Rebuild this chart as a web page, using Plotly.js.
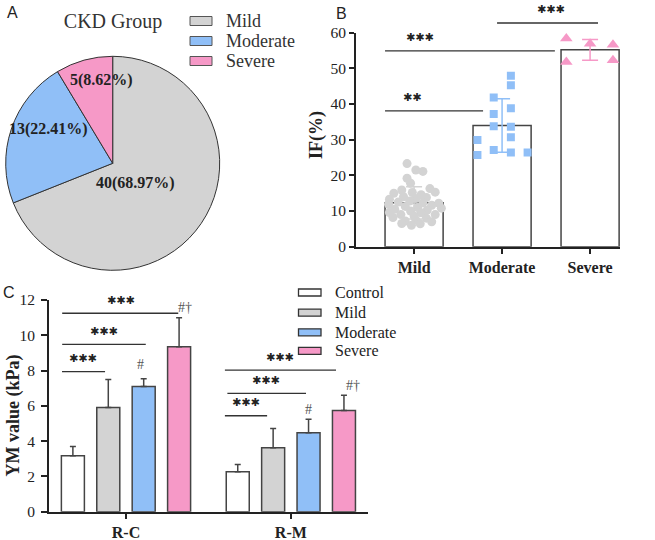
<!DOCTYPE html>
<html>
<head>
<meta charset="utf-8">
<script src="https://cdn.plot.ly/plotly-3.0.1.min.js"></script>
<style>html,body{margin:0;padding:0;background:#fff;}#chart{width:655px;height:540px;}</style>
</head>
<body>
<div id="chart"></div>
<script>
// ---------- Panel A data ----------
const pieLabels = ['Mild', 'Moderate', 'Severe'];
const pieCounts = [40, 13, 5];

// ---------- Panel B data ----------
const ifCats = ['Mild', 'Moderate', 'Severe'];
const ifMeans = [12.3, 34.0, 55.2];
const ifSD = [4.5, 7.5, 2.9];
const mildIF = [23.3, 21.5, 21.1, 19.2, 17.8, 15.9, 16.3, 15.3, 15.0, 15.2, 14.6, 14.0, 13.8, 13.3, 13.5, 12.8, 12.5, 12.2, 12.3, 11.9,
                11.6, 11.3, 11.0, 10.8, 10.5, 10.3, 10.0, 9.6, 9.5, 9.0, 9.0, 8.6, 8.2, 8.0, 7.5, 7.2, 7.0, 6.5, 6.4, 6.0];
const mildJitter = [-0.08, 0.02, 0.10, -0.08, -0.04, -0.14, 0.18, 0.24, -0.23, -0.02, 0.08, -0.12, 0.14, -0.28, 0.02, -0.05, -0.18, 0.28, 0.10, -0.29,
                    0.20, -0.10, 0.04, 0.31, -0.22, 0.15, -0.04, -0.28, 0.08, 0.24, -0.15, 0.00, -0.24, 0.14, 0.02, -0.10, 0.20, -0.14, 0.07, -0.03];
const modIF = [47.9, 45.3, 41.8, 38.8, 37.2, 33.8, 33.6, 29.9, 30.7, 25.7, 27.1, 26.4, 26.4];
const modJitter = [0.10, 0.10, -0.095, 0.10, -0.095, -0.095, 0.10, -0.28, 0.10, -0.28, -0.095, 0.10, 0.29];
const sevIF = [58.4, 51.8, 56.9, 56.6, 52.3];
const sevJitter = [-0.27, -0.27, 0.0, 0.26, 0.26];

// ---------- Panel C data ----------
const ymSites = ['R-C', 'R-M'];
const ymGroups = ['Control', 'Mild', 'Moderate', 'Severe'];
const ymControl = [3.17, 2.27];
const ymControlSD = [0.52, 0.40];
const ymMild = [5.9, 3.62];
const ymMildSD = [1.6, 1.1];
const ymModerate = [7.1, 4.47];
const ymModerateSD = [0.43, 0.77];
const ymSevere = [9.35, 5.73];
const ymSevereSD = [1.65, 0.87];

// ---------- styles ----------
const SERIF = 'Liberation Serif, Times New Roman, serif';
const SANS = 'Liberation Sans, Arial, sans-serif';
const GRAY = '#d3d3d3', BLUE = '#90bff7', PINK = '#f699c7';
const pieColors = [GRAY, BLUE, PINK];
const groupColors = ['#ffffff', GRAY, BLUE, PINK];
const ink = '#222';
const W = 655, H = 540;
const px = v => v / W, py = v => 1 - v / H;

const traces = [];

// Pie
traces.push({
  type: 'pie', labels: pieLabels, values: pieCounts, sort: false, direction: 'clockwise', rotation: 0,
  domain: {x: [px(5.7), px(219.7)], y: [py(270.3), py(56.3)]},
  marker: {colors: pieColors, line: {color: '#333', width: 1}},
  textinfo: 'none', hoverinfo: 'none', showlegend: false
});

// Panel B bars
traces.push({
  type: 'bar', x: [0, 1, 2], y: ifMeans, width: 0.66, xaxis: 'x2', yaxis: 'y2',
  marker: {color: '#fff', line: {color: '#444', width: 1.5}}, showlegend: false, hoverinfo: 'none'
});
// Panel B error bars (coloured per group)
for (let i = 0; i < 3; i++) {
  traces.push({
    type: 'scatter', mode: 'markers', x: [i], y: [ifMeans[i]], xaxis: 'x2', yaxis: 'y2',
    marker: {opacity: 0, size: 1}, showlegend: false, hoverinfo: 'none',
    error_y: {type: 'data', array: [ifSD[i]], color: pieColors[i], thickness: 1.5, width: 8}
  });
}
// Panel B points
traces.push({
  type: 'scatter', mode: 'markers', x: mildIF.map((v, i) => 0 + mildJitter[i]), y: mildIF, xaxis: 'x2', yaxis: 'y2',
  marker: {symbol: 'circle', size: 9, color: GRAY}, showlegend: false, hoverinfo: 'none'
});
traces.push({
  type: 'scatter', mode: 'markers', x: modIF.map((v, i) => 1 + modJitter[i]), y: modIF, xaxis: 'x2', yaxis: 'y2',
  marker: {symbol: 'square', size: 8, color: BLUE}, showlegend: false, hoverinfo: 'none'
});
traces.push({
  type: 'scatter', mode: 'markers', x: sevIF.map((v, i) => 2 + sevJitter[i]), y: sevIF, xaxis: 'x2', yaxis: 'y2',
  marker: {symbol: 'triangle-up', size: 11, color: PINK}, showlegend: false, hoverinfo: 'none'
});

// Panel C bars
const ymVals = [ymControl, ymMild, ymModerate, ymSevere];
const ymSDs = [ymControlSD, ymMildSD, ymModerateSD, ymSevereSD];
for (let g = 0; g < 4; g++) {
  traces.push({
    type: 'bar', name: ymGroups[g], x: ymSites, y: ymVals[g], xaxis: 'x', yaxis: 'y',
    marker: {color: groupColors[g], line: {color: '#444', width: 1.5}},
    error_y: {type: 'data', array: ymSDs[g], symmetric: false, arrayminus: ymSDs[g].map(() => 0), color: '#444', thickness: 1.5, width: 3},
    showlegend: false, hoverinfo: 'none'
  });
}

// ---------- annotations / shapes ----------
const STAR = '\u2731';
const stars = n => STAR.repeat(n);
const starFont = {family: 'DejaVu Sans', size: 11, color: ink};
const hashFont = {family: SERIF, size: 14, color: '#555'};
const total = pieCounts.reduce((a, b) => a + b, 0);
const pieText = pieCounts.map(c => c + '(' + (c / total * 100).toFixed(2) + '%)');
const pieTextPos = [[135, 183], [48, 129], [101.5, 80]];

const A = (o) => Object.assign({showarrow: false, xanchor: 'center', yanchor: 'middle'}, o);
const annotations = [
  A({text: 'A', x: px(12), y: py(13), xref: 'paper', yref: 'paper', font: {family: SANS, size: 16, color: ink}}),
  A({text: 'B', x: px(341), y: py(14), xref: 'paper', yref: 'paper', font: {family: SANS, size: 16, color: ink}}),
  A({text: 'C', x: px(9), y: py(292), xref: 'paper', yref: 'paper', font: {family: SANS, size: 16, color: ink}}),
  // axis titles
  A({text: '<b>IF(%)</b>', textangle: -90, x: px(316), y: py(135), xref: 'paper', yref: 'paper', font: {family: SERIF, size: 18, color: ink}}),
  A({text: '<b>YM value (kPa)</b>', textangle: -90, x: px(12.5), y: py(416), xref: 'paper', yref: 'paper', font: {family: SERIF, size: 18, color: ink}}),
  // panel B significance
  A({text: stars(2), x: -0.02, y: 41.7, xref: 'x2', yref: 'y2', font: starFont}),
  A({text: stars(3), x: 0.07, y: 58.6, xref: 'x2', yref: 'y2', font: starFont}),
  A({text: stars(3), x: 1.56, y: py(10), xref: 'x2', yref: 'paper', font: starFont}),
  // panel C significance
  A({text: stars(3), x: -0.263, y: 8.66, xref: 'x', yref: 'y', font: starFont}),
  A({text: stars(3), x: -0.135, y: 10.2, xref: 'x', yref: 'y', font: starFont}),
  A({text: stars(3), x: -0.03, y: 12.0, xref: 'x', yref: 'y', font: starFont}),
  A({text: '#', x: 0.091, y: 8.32, xref: 'x', yref: 'y', font: hashFont}),
  A({text: '#\u2020', x: 0.358, y: 11.57, xref: 'x', yref: 'y', font: hashFont}),
  A({text: stars(3), x: 0.726, y: 6.18, xref: 'x', yref: 'y', font: starFont}),
  A({text: stars(3), x: 0.85, y: 7.43, xref: 'x', yref: 'y', font: starFont}),
  A({text: stars(3), x: 0.934, y: 8.75, xref: 'x', yref: 'y', font: starFont}),
  A({text: '#', x: 1.108, y: 5.77, xref: 'x', yref: 'y', font: hashFont}),
  A({text: '#\u2020', x: 1.379, y: 7.18, xref: 'x', yref: 'y', font: hashFont})
];
pieText.forEach((t, i) => annotations.push(A({
  text: '<b>' + t + '</b>', x: px(pieTextPos[i][0]), y: py(pieTextPos[i][1]), xref: 'paper', yref: 'paper',
  font: {family: SERIF, size: 16, color: ink}
})));

const lineStyle = {color: '#333', width: 1.3};
const shapes = [
  {type: 'line', xref: 'x2', yref: 'y2', x0: -0.33, x1: 0.784, y0: 38.1, y1: 38.1, line: lineStyle},
  {type: 'line', xref: 'x2', yref: 'y2', x0: -0.33, x1: 1.60, y0: 54.9, y1: 54.9, line: lineStyle},
  {type: 'line', xref: 'x2', yref: 'paper', x0: 0.943, x1: 2.09, y0: py(23), y1: py(23), line: lineStyle},
  {type: 'line', xref: 'x', yref: 'y', x0: -0.388, x1: -0.127, y0: 7.94, y1: 7.94, line: lineStyle},
  {type: 'line', xref: 'x', yref: 'y', x0: -0.387, x1: 0.12, y0: 9.49, y1: 9.49, line: lineStyle},
  {type: 'line', xref: 'x', yref: 'y', x0: -0.387, x1: 0.317, y0: 11.25, y1: 11.25, line: lineStyle},
  {type: 'line', xref: 'x', yref: 'y', x0: 0.60, x1: 0.856, y0: 5.44, y1: 5.44, line: lineStyle},
  {type: 'line', xref: 'x', yref: 'y', x0: 0.615, x1: 1.092, y0: 6.71, y1: 6.71, line: lineStyle},
  {type: 'line', xref: 'x', yref: 'y', x0: 0.60, x1: 1.274, y0: 8.03, y1: 8.03, line: lineStyle}
];

// legends (boxes + labels)
const pieLegendY = [21, 41, 61];
pieLabels.forEach((lab, i) => {
  shapes.push({type: 'rect', xref: 'paper', yref: 'paper', x0: px(190), x1: px(212), y0: py(pieLegendY[i] + 4.5), y1: py(pieLegendY[i] - 4.5),
    fillcolor: pieColors[i], line: {color: '#555', width: 1}});
  annotations.push(A({text: lab, xanchor: 'left', x: px(224), y: py(pieLegendY[i]), xref: 'paper', yref: 'paper',
    font: {family: SERIF, size: 18, color: '#333'}}));
});
const barLegendY = [292.5, 312.7, 332.3, 350.8];
ymGroups.forEach((lab, i) => {
  shapes.push({type: 'rect', xref: 'paper', yref: 'paper', x0: px(298.5), x1: px(321), y0: py(barLegendY[i] + 3.5), y1: py(barLegendY[i] - 3.5),
    fillcolor: groupColors[i], line: {color: '#333', width: 1.3}});
  annotations.push(A({text: lab, xanchor: 'left', x: px(333), y: py(barLegendY[i]), xref: 'paper', yref: 'paper',
    font: {family: SERIF, size: 16, color: ink}}));
});

const axisCommon = {
  showline: true, linewidth: 2, linecolor: ink, ticks: 'outside', ticklen: 5, tickwidth: 2, tickcolor: ink,
  showgrid: false, zeroline: false, fixedrange: true
};

const layout = {
  width: W, height: H, margin: {l: 0, r: 0, t: 0, b: 0},
  paper_bgcolor: '#fff', plot_bgcolor: 'rgba(0,0,0,0)',
  font: {family: SERIF, color: ink},
  barmode: 'group', bargap: 0.141, bargroupgap: 0.35,
  showlegend: false,
  title: {text: 'CKD Group', x: px(113), xanchor: 'center', y: py(21), yanchor: 'middle', font: {family: SERIF, size: 20, color: '#333'}},
  xaxis2: Object.assign({}, axisCommon, {
    domain: [px(356), px(620)], anchor: 'y2', type: 'linear', range: [-0.66, 2.34],
    tickvals: [0, 1, 2], ticktext: ifCats, tickwidth: 1.5,
    tickfont: {family: SERIF, size: 16, weight: 'bold', color: ink}
  }),
  yaxis2: Object.assign({}, axisCommon, {
    domain: [py(246.7), py(32.7)], anchor: 'x2', range: [0, 60], dtick: 10,
    tickfont: {family: SERIF, size: 15.5, color: ink}
  }),
  xaxis: Object.assign({}, axisCommon, {
    domain: [px(49), px(368)], anchor: 'y', type: 'category', range: [-0.467, 1.468], tickwidth: 1.5,
    tickfont: {family: SERIF, size: 16, weight: 'bold', color: ink}
  }),
  yaxis: Object.assign({}, axisCommon, {
    domain: [py(511.7), py(300)], anchor: 'x', range: [0, 12], dtick: 2, ticklen: 6, ticklabelstandoff: 3,
    tickfont: {family: SERIF, size: 15.5, color: ink}
  }),
  annotations: annotations,
  shapes: shapes
};

Plotly.newPlot('chart', traces, layout, {displayModeBar: false, staticPlot: true});
</script>
</body>
</html>
